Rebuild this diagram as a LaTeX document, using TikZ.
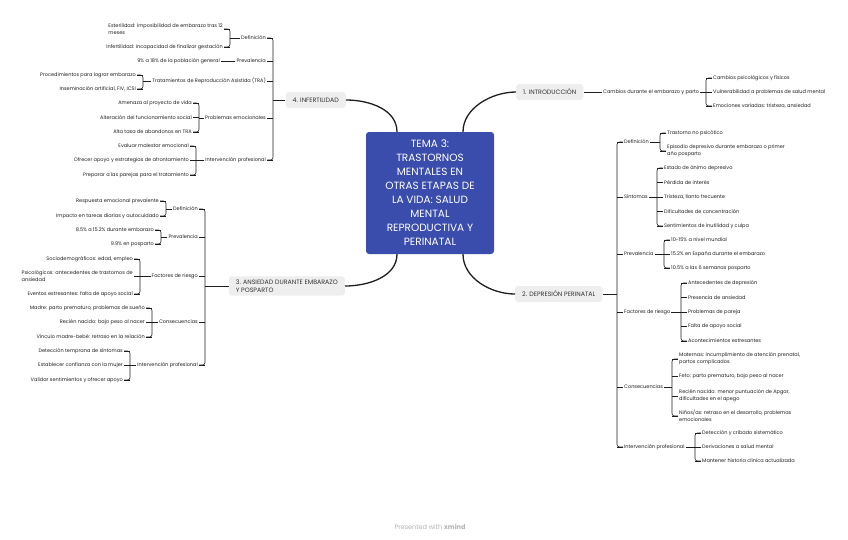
\documentclass[tikz,border=0pt]{standalone}
\usepackage{fontspec}
\setmainfont{Poppins}
\usetikzlibrary{positioning,calc}
\definecolor{royal}{RGB}{58,76,172}
\definecolor{mist}{RGB}{238,238,238}
\definecolor{ink}{RGB}{30,30,30}
\definecolor{slate}{RGB}{50,50,50}
\tikzset{
  hub/.style={fill=royal,text=white,rounded corners=3pt,minimum width=128pt,
    minimum height=122pt,align=center,
    font=\fontsize{10.5}{14}\selectfont},
  branch/.style={fill=mist,text=slate,rounded corners=3pt,inner xsep=7pt,
    minimum height=16pt,align=left,font=\fontsize{6.3}{8}\selectfont},
  topic/.style={text=ink,inner xsep=1pt,inner ysep=1pt,font=\fontsize{5}{7}\selectfont},
  leaf/.style={topic,align=left},
  link/.style={draw=ink,line width=0.6pt},
  trunk/.style={draw=ink,line width=1.3pt},
}
% brackets: parent, child prefix, number of children
\newcommand\bracketR[3]{%
  \draw[link,rounded corners=2.5pt] (#21.west) -- ++(-6,0) |- (#2#3.west);
  \foreach \k in {1,...,#3} \draw[link] (#2\k.west) -- ++(-6,0);
  \coordinate (bk) at ([xshift=-6pt]#21.west);
  \draw[link] (#1.east) -- (#1.east -| bk);
}
\newcommand\bracketL[3]{%
  \draw[link,rounded corners=2.5pt] (#21.east) -- ++(6,0) |- (#2#3.east);
  \foreach \k in {1,...,#3} \draw[link] (#2\k.east) -- ++(6,0);
  \coordinate (bk) at ([xshift=6pt]#21.east);
  \draw[link] (#1.west) -- (#1.west -| bk);
}

\begin{document}
\begin{tikzpicture}[x=1pt,y=-1pt]
  \useasboundingbox (0,0) rectangle (848,539);
  \node[hub] (hub) at (430,193) {TEMA 3:\\TRASTORNOS\\MENTALES EN\\OTRAS ETAPAS DE\\LA VIDA: SALUD\\MENTAL\\REPRODUCTIVA Y\\PERINATAL};
  \node[branch,anchor=west] (intro) at (516,92) {1. INTRODUCCIÓN};
  \node[branch,anchor=west] (dep) at (515,294) {2. DEPRESIÓN PERINATAL};
  \node[branch,anchor=east] (ans) at (345,286) {3. ANSIEDAD DURANTE EMBARAZO\\Y POSPARTO};
  \node[branch,anchor=east] (inf) at (346,100) {4. INFERTILIDAD};
  \draw[trunk] ([xshift=33pt]hub.north) .. controls +(0,-24) and +(-24,0) .. (intro.west);
  \draw[trunk] ([xshift=33pt]hub.south) .. controls +(0,24) and +(-24,0) .. (dep.west);
  \draw[trunk] ([xshift=-33pt]hub.south) .. controls +(0,22) and +(24,0) .. (ans.east);
  \draw[trunk] ([xshift=-33pt]hub.north) .. controls +(0,-22) and +(24,0) .. (inf.east);

  % 1. introduccion
  \node[topic,anchor=west] (intro-1) at (602,92) {Cambios durante el embarazo y parto};
  \draw[link] (intro.east) -- (intro-1.west);
  \foreach \y/\t [count=\i] in {78/Cambios psicológicos y físicos, 92/Vulnerabilidad a problemas de salud mental, 106/{Emociones variadas: tristeza, ansiedad}}
    \node[leaf,anchor=west] (intro-1-\i) at (712,\y) {\t};
  \bracketR{intro-1}{intro-1-}{3}

  % 2. depresion perinatal
  \foreach \y/\t [count=\i] in {142/Definición, 197/Síntomas, 254/Prevalencia, 312/Factores de riesgo, 387/Consecuencias, 447/Intervención profesional}
    \node[topic,anchor=west] (dep-\i) at (623,\y) {\t};
  \bracketR{dep}{dep-}{6}
  \node[leaf,anchor=west] (dep-1-1) at (666,133) {Trastorno no psicótico};
  \node[leaf,anchor=west] (dep-1-2) at (666,151) {Episodio depresivo durante embarazo o primer\\año posparto};
  \bracketR{dep-1}{dep-1-}{2}
  \foreach \t [count=\i] in {Estado de ánimo depresivo, Pérdida de interés, {Tristeza, llanto frecuente}, Dificultades de concentración, Sentimientos de inutilidad y culpa}
    \node[leaf,anchor=west] (dep-2-\i) at (663,{168+14.5*(\i-1)}) {\t};
  \bracketR{dep-2}{dep-2-}{5}
  \foreach \t [count=\i] in {10-15\% a nivel mundial, 15.2\% en España durante el embarazo, 10.5\% a las 6 semanas posparto}
    \node[leaf,anchor=west] (dep-3-\i) at (670,{240+14*(\i-1)}) {\t};
  \bracketR{dep-3}{dep-3-}{3}
  \foreach \t [count=\i] in {Antecedentes de depresión, Presencia de ansiedad, Problemas de pareja, Falta de apoyo social, Acontecimientos estresantes}
    \node[leaf,anchor=west] (dep-4-\i) at (687,{283+14.5*(\i-1)}) {\t};
  \bracketR{dep-4}{dep-4-}{5}
  \node[leaf,anchor=west] (dep-5-1) at (678,359) {Maternas: incumplimiento de atención prenatal,\\partos complicados};
  \node[leaf,anchor=west] (dep-5-2) at (678,376) {Feto: parto prematuro, bajo peso al nacer};
  \node[leaf,anchor=west] (dep-5-3) at (678,396) {Recién nacido: menor puntuación de Apgar,\\dificultades en el apego};
  \node[leaf,anchor=west] (dep-5-4) at (678,416) {Niños/as: retraso en el desarrollo, problemas\\emocionales};
  \bracketR{dep-5}{dep-5-}{4}
  \foreach \t [count=\i] in {Detección y cribado sistemático, Derivaciones a salud mental, Mantener historia clínica actualizada}
    \node[leaf,anchor=west] (dep-6-\i) at (701,{433+14*(\i-1)}) {\t};
  \bracketR{dep-6}{dep-6-}{3}

  % 3. ansiedad
  \foreach \y/\t [count=\i] in {209/Definición, 237/Prevalencia, 276/Factores de riesgo, 322/Consecuencias, 365/Intervención profesional}
    \node[topic,anchor=east] (ans-\i) at (199,\y) {\t};
  \bracketL{ans}{ans-}{5}
  \node[leaf,anchor=east] (ans-1-1) at (160,201) {Respuesta emocional prevalente};
  \node[leaf,anchor=east] (ans-1-2) at (160,216) {Impacto en tareas diarias y autocuidado};
  \bracketL{ans-1}{ans-1-}{2}
  \node[leaf,anchor=east] (ans-2-1) at (155,230) {8.5\% a 15.2\% durante embarazo};
  \node[leaf,anchor=east] (ans-2-2) at (155,244) {9.9\% en posparto};
  \bracketL{ans-2}{ans-2-}{2}
  \node[leaf,anchor=east] (ans-3-1) at (134,259) {Sociodemográficos: edad, empleo};
  \node[leaf,anchor=east] (ans-3-2) at (134,276) {Psicológicos: antecedentes de trastornos de\\ansiedad};
  \node[leaf,anchor=east] (ans-3-3) at (134,294) {Eventos estresantes: falta de apoyo social};
  \bracketL{ans-3}{ans-3-}{3}
  \foreach \t [count=\i] in {{Madre: parto prematuro, problemas de sueño}, Recién nacido: bajo peso al nacer, Vínculo madre-bebé: retraso en la relación}
    \node[leaf,anchor=east] (ans-4-\i) at (146,{308+14.5*(\i-1)}) {\t};
  \bracketL{ans-4}{ans-4-}{3}
  \foreach \t [count=\i] in {Detección temprana de síntomas, Establecer confianza con la mujer, Validar sentimientos y ofrecer apoyo}
    \node[leaf,anchor=east] (ans-5-\i) at (124,{351+14.5*(\i-1)}) {\t};
  \bracketL{ans-5}{ans-5-}{3}

  % 4. infertilidad
  \foreach \y/\t [count=\i] in {38/Definición, 61/Prevalencia, 81/Tratamientos de Reproducción Asistida (TRA), 118/Problemas emocionales, 160/Intervención profesional}
    \node[topic,anchor=east] (inf-\i) at (267,\y) {\t};
  \bracketL{inf}{inf-}{5}
  \node[leaf,anchor=east] (inf-1-1) at (224,29) {Esterilidad: imposibilidad de embarazo tras 12\\meses};
  \node[leaf,anchor=east] (inf-1-2) at (224,47) {Infertilidad: incapacidad de finalizar gestación};
  \bracketL{inf-1}{inf-1-}{2}
  \node[leaf,anchor=east] (inf-2-1) at (221,61) {9\% a 18\% de la población general};
  \draw[link] (inf-2.west) -- (inf-2-1.east);
  \node[leaf,anchor=east] (inf-3-1) at (137,75) {Procedimientos para lograr embarazo};
  \node[leaf,anchor=east] (inf-3-2) at (137,89) {Inseminación artificial, FIV, ICSI};
  \bracketL{inf-3}{inf-3-}{2}
  \foreach \t [count=\i] in {Amenaza al proyecto de vida, Alteración del funcionamiento social, Alta tasa de abandonos en TRA}
    \node[leaf,anchor=east] (inf-4-\i) at (193,{103+14.5*(\i-1)}) {\t};
  \bracketL{inf-4}{inf-4-}{3}
  \foreach \t [count=\i] in {Evaluar malestar emocional, Ofrecer apoyo y estrategias de afrontamiento, Preparar a las parejas para el tratamiento}
    \node[leaf,anchor=east] (inf-5-\i) at (190,{146+14.5*(\i-1)}) {\t};
  \bracketL{inf-5}{inf-5-}{3}

  \node[font=\fontsize{6.5}{8}\selectfont,text=black!30] (credit) at (430,527) {Presented with \textbf{xmind}};
\end{tikzpicture}
\end{document}
